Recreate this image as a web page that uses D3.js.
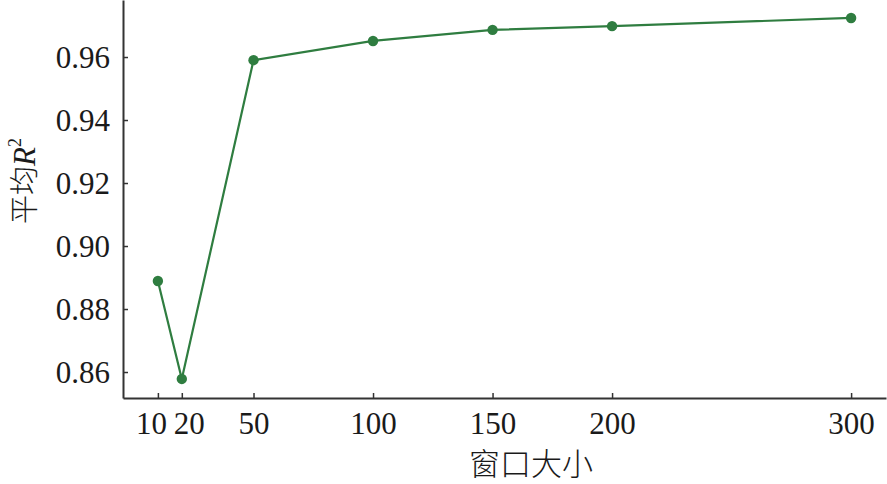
<!DOCTYPE html>
<html><head><meta charset="utf-8">
<script src="https://cdn.jsdelivr.net/npm/d3@7"></script>
<style>body{margin:0;background:#fff}svg{display:block}</style>
</head><body>
<svg id="c" width="887" height="484"></svg>
<script>
const windowSizes = [10, 20, 50, 100, 150, 200, 300];
const meanR2 = [0.8889, 0.8578, 0.9590, 0.9651, 0.9686, 0.9698, 0.9724];
const xTicks = [10, 20, 50, 100, 150, 200, 300];
const yTicks = [0.86, 0.88, 0.90, 0.92, 0.94, 0.96];

const svg = d3.select("#c");
const m = {left: 123, right: 1, top: 0, bottom: 86};
const W = 887, H = 484;
const x = d3.scaleLinear().domain([-4.6, 314.6]).range([m.left, W - m.right]);
const y = d3.scaleLinear().domain([0.85175, 0.9781]).range([H - m.bottom, m.top]);
const axisColor = "#333";
const font = "'Liberation Serif', 'Times New Roman', serif";

const gx = svg.append("g").attr("transform", `translate(0,${H - m.bottom})`)
  .call(d3.axisBottom(x).tickValues(xTicks).tickSizeInner(-5).tickSizeOuter(0).tickPadding(14));
const gy = svg.append("g").attr("transform", `translate(${m.left},0)`)
  .call(d3.axisLeft(y).tickValues(yTicks).tickFormat(d3.format(".2f")).tickSizeInner(-5).tickSizeOuter(0).tickPadding(13));
[gx, gy].forEach(g => {
  g.select(".domain").attr("stroke", axisColor).attr("stroke-width", 2);
  g.selectAll(".tick line").attr("stroke", axisColor).attr("stroke-width", 1.5);
  g.selectAll(".tick text").attr("fill", "#1a1a1a").style("font-family", font).style("font-size", "31px");
});
gy.selectAll(".tick text").attr("dy", "0.34em");
// nudge crowded labels apart as in the reference
gx.selectAll(".tick text").attr("dx", d => d === 10 ? -7 : d === 20 ? 7 : 0);

const line = d3.line().x((d, i) => x(windowSizes[i])).y(d => y(d));
svg.append("path").datum(meanR2).attr("d", line)
  .attr("fill", "none").attr("stroke", "#2f7d40").attr("stroke-width", 2.2);
svg.selectAll("circle.pt").data(meanR2).enter().append("circle")
  .attr("class", "pt").attr("cx", (d, i) => x(windowSizes[i])).attr("cy", d => y(d))
  .attr("r", 5.2).attr("fill", "#2f7d40");

svg.append("text").attr("x", 531).attr("y", 475)
  .attr("text-anchor", "middle").attr("fill", "#1a1a1a")
  .style("font-family", "'Noto Sans CJK SC', sans-serif").style("font-size", "31px").style("font-weight", 300)
  .text("窗口大小");

const yl = svg.append("text").attr("transform", "translate(35,181) rotate(-90)")
  .attr("text-anchor", "middle").attr("fill", "#1a1a1a").style("font-size", "29px");
yl.append("tspan").style("font-family", "'Noto Sans CJK SC', sans-serif").style("font-weight", 300).text("平均");
yl.append("tspan").style("font-family", font).style("font-style", "italic").style("font-size", "31px").text("R");
yl.append("tspan").style("font-family", font).style("font-size", "18px").attr("dy", "-0.8em").text("2");
</script>
</body></html>
